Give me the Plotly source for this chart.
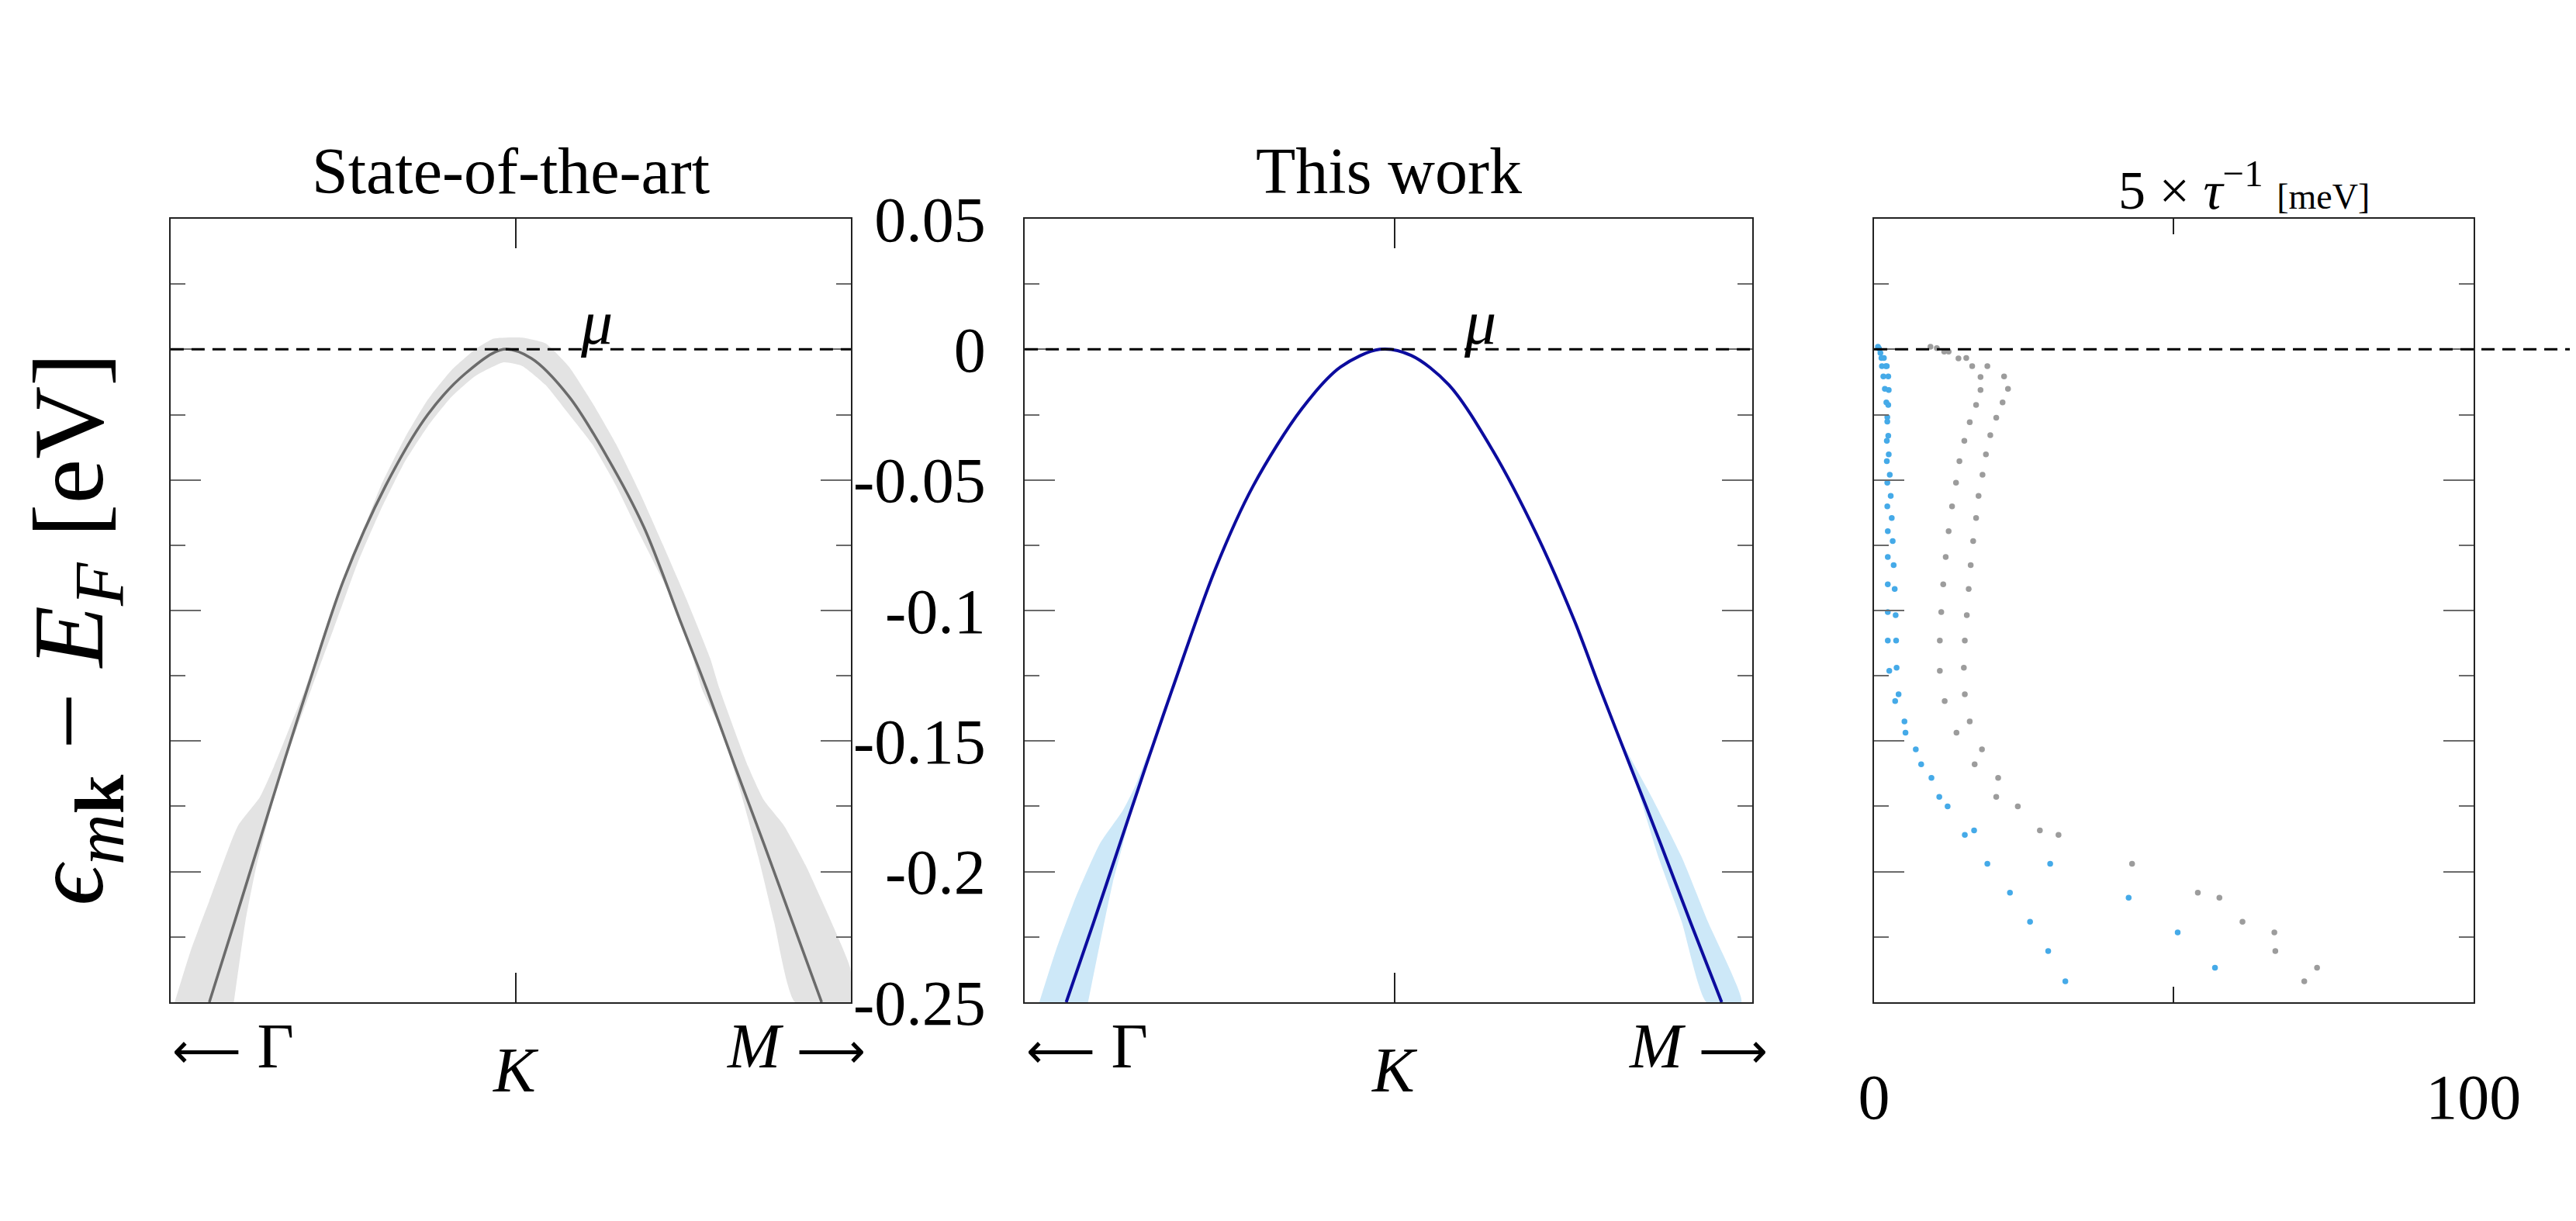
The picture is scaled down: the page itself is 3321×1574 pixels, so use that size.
import plotly.graph_objects as go

# band dispersion along Gamma <- K -> M, k in units of the plotted path (0..1)
K_POS = 0.508
E_RANGE = [-0.25, 0.05]
E_TICKS = [0.05, 0.0, -0.05, -0.1, -0.15, -0.2, -0.25]
E_LABELS = ["0.05", "0", "-0.05", "-0.1", "-0.15", "-0.2", "-0.25"]
E_MINOR = [0.025, -0.025, -0.075, -0.125, -0.175, -0.225]
MU = 0.0

# state-of-the-art band (gray)
sota_k = [0.057, 0.095, 0.133, 0.168, 0.201, 0.254, 0.316, 0.378, 0.434, 0.489,
          0.530, 0.586, 0.641, 0.696, 0.750, 0.788, 0.830, 0.873, 0.915, 0.957]
sota_e = [-0.25, -0.2185, -0.1865, -0.157, -0.13, -0.0886, -0.0523, -0.025, -0.0091, 0.0,
          -0.0034, -0.0182, -0.0409, -0.0682, -0.1045, -0.13, -0.16, -0.19, -0.22, -0.25]

# uncertainty band outline: outer edge left->right, then inner edge right->left
sota_band_k = [0.006, 0.030, 0.057, 0.099, 0.131, 0.152, 0.175, 0.198, 0.240, 0.275, 0.309,
               0.344, 0.378, 0.413, 0.448, 0.475, 0.517, 0.551, 0.586, 0.620, 0.655, 0.689,
               0.724, 0.758, 0.793, 0.807, 0.849, 0.872, 0.902, 0.933, 0.971, 0.999, 1.0,
               0.918, 0.887, 0.864, 0.838, 0.811, 0.781, 0.758, 0.724, 0.689, 0.655, 0.620,
               0.586, 0.551, 0.517, 0.489, 0.448, 0.413, 0.378, 0.344, 0.309, 0.275, 0.240,
               0.207, 0.186, 0.163, 0.144, 0.125, 0.110, 0.093]
sota_band_e = [-0.25, -0.23, -0.2112, -0.1825, -0.1716, -0.1597, -0.1449, -0.13, -0.0989, -0.075, -0.0523,
               -0.0341, -0.0193, -0.008, 0.0, 0.0041, 0.0045, 0.0023, -0.0068, -0.0205, -0.0364, -0.0545,
               -0.075, -0.0955, -0.1182, -0.13, -0.1597, -0.1726, -0.1825, -0.1973, -0.2191, -0.2369, -0.25,
               -0.25, -0.2191, -0.1944, -0.1696, -0.1468, -0.13, -0.1091, -0.0886, -0.0705, -0.0523, -0.0364,
               -0.025, -0.0136, -0.0064, -0.005, -0.0102, -0.0182, -0.0295, -0.0432, -0.0614, -0.0818, -0.1068,
               -0.13, -0.1449, -0.1617, -0.1795, -0.1993, -0.2191, -0.25]

# this work band (blue)
work_k = [0.057, 0.094, 0.130, 0.166, 0.203, 0.262, 0.314, 0.381, 0.434, 0.488,
          0.531, 0.583, 0.643, 0.703, 0.755, 0.791, 0.833, 0.875, 0.916, 0.958]
work_e = [-0.25, -0.22, -0.19, -0.16, -0.13, -0.0841, -0.0523, -0.0227, -0.0068, 0.0,
          -0.0023, -0.0136, -0.0386, -0.0705, -0.1035, -0.13, -0.16, -0.19, -0.22, -0.25]

# uncertainty only visible far from K: two separate patches
work_band_k = [0.020, 0.043, 0.071, 0.103, 0.135, 0.153, 0.171, 0.180,
               0.164, 0.149, 0.135, 0.121, 0.103, 0.087, None,
               0.814, 0.862, 0.903, 0.939, 0.985, 0.937, 0.903, 0.871, 0.846, 0.828]
work_band_e = [-0.25, -0.23, -0.2092, -0.1894, -0.1765, -0.1666, -0.1538, -0.1498,
               -0.1627, -0.1746, -0.1894, -0.2042, -0.228, -0.25, None,
               -0.147, -0.1716, -0.1944, -0.2191, -0.25, -0.25, -0.2191, -0.1944, -0.1716, -0.1557]

# scattering rates, 5 x 1/tau [meV], vs band energy [eV]
rate_blue_x = [0.65, 0.82, 1.06, 1.23, 1.64, 1.31, 1.96, 2.13, 1.55, 2.37, 1.80, 2.45, 2.05, 2.37,
               2.21, 2.21, 2.37, 2.13, 2.45, 2.13, 2.62, 2.21, 2.78, 2.21, 2.95, 2.29, 3.11, 2.29,
               3.27, 2.29, 3.44, 2.29, 3.60, 2.29, 3.68, 2.54, 3.76, 4.09, 3.52, 5.07, 5.24, 6.96,
               7.86, 9.57, 10.88, 12.27, 15.14, 16.69, 18.90, 29.38, 22.67, 42.47, 26.02, 50.65,
               29.05, 56.87, 31.91]
rate_blue_e = [0.001, 0.0003, -0.0014, -0.0033, -0.0033, -0.0064, -0.0064, -0.0064, -0.0104, -0.0104,
               -0.0151, -0.0156, -0.0203, -0.0213, -0.026, -0.0277, -0.0331, -0.035, -0.0402, -0.0428,
               -0.048, -0.0511, -0.0561, -0.0601, -0.0646, -0.0696, -0.0734, -0.0795, -0.0826, -0.09,
               -0.0918, -0.1006, -0.1018, -0.1115, -0.1115, -0.1231, -0.1219, -0.1321, -0.1347, -0.1425,
               -0.1468, -0.1532, -0.1589, -0.1641, -0.1714, -0.175, -0.1859, -0.1842, -0.197, -0.197,
               -0.2081, -0.21, -0.2192, -0.2233, -0.2304, -0.2368, -0.242]

rate_gray_x = [9.41, 10.47, 11.70, 12.44, 14.08, 15.38, 16.37, 18.90, 17.76, 21.69, 17.76, 22.34,
               17.02, 21.44, 15.96, 20.38, 15.06, 19.39, 14.24, 18.66, 13.67, 18.09, 13.01, 17.43,
               12.44, 17.02, 11.95, 16.53, 11.54, 16.12, 11.21, 15.79, 10.97, 15.47, 10.97, 15.14,
               11.78, 14.98, 13.75, 15.14, 16.78, 15.96, 20.38, 18.00, 23.98, 20.70, 27.66, 30.77,
               43.04, 54.01, 57.61, 61.46, 66.78, 66.94, 73.90, 71.77]
rate_gray_e = [0.001, 0.0005, -0.0009, -0.0009, -0.0035, -0.0033, -0.0064, -0.0064, -0.0106, -0.0104,
               -0.0156, -0.0151, -0.0213, -0.0203, -0.0279, -0.0262, -0.035, -0.0329, -0.0428, -0.0402,
               -0.0511, -0.048, -0.0601, -0.0561, -0.0696, -0.0646, -0.0795, -0.0734, -0.09, -0.0826,
               -0.1006, -0.0918, -0.1115, -0.1018, -0.1231, -0.1115, -0.1347, -0.1219, -0.1468, -0.1321,
               -0.1589, -0.1425, -0.1714, -0.1532, -0.175, -0.1641, -0.1842, -0.1859, -0.197, -0.2081,
               -0.21, -0.2192, -0.2233, -0.2304, -0.2368, -0.242]
RATE_TICKS = [0, 100]
RATE_LABELS = ["0", "100"]
RATE_MINOR = [50]

FONT = "Liberation Serif"
AX_LINE = "#222222"
TICK_COL = "#6a6a6a"

fig = go.Figure()

# panel 1
fig.add_trace(go.Scatter(x=sota_band_k, y=sota_band_e, fill="toself", fillcolor="#e3e3e3",
                         mode="lines", line=dict(width=0, color="rgba(0,0,0,0)", shape="spline", smoothing=0.5),
                         hoverinfo="skip", xaxis="x", yaxis="y"))
fig.add_trace(go.Scatter(x=sota_k, y=sota_e, mode="lines",
                         line=dict(color="#6b6b6b", width=3.5, shape="spline", smoothing=0.9),
                         xaxis="x", yaxis="y"))

# panel 2
fig.add_trace(go.Scatter(x=work_band_k, y=work_band_e, fill="toself", fillcolor="#cde8f8",
                         mode="lines", line=dict(width=0, color="rgba(0,0,0,0)", shape="spline", smoothing=0.5),
                         hoverinfo="skip", xaxis="x2", yaxis="y2"))
fig.add_trace(go.Scatter(x=work_k, y=work_e, mode="lines",
                         line=dict(color="#0c0c9e", width=4, shape="spline", smoothing=0.9),
                         xaxis="x2", yaxis="y2"))

# panel 3
fig.add_trace(go.Scatter(x=rate_gray_x, y=rate_gray_e, mode="markers",
                         marker=dict(color="#9c9c9c", size=7.5), xaxis="x3", yaxis="y3"))
fig.add_trace(go.Scatter(x=rate_blue_x, y=rate_blue_e, mode="markers",
                         marker=dict(color="#45aae8", size=7.5), xaxis="x3", yaxis="y3"))

y_common = dict(
    range=E_RANGE, tickmode="array", tickvals=E_TICKS, ticktext=E_LABELS,
    showline=True, linecolor=AX_LINE, linewidth=2, mirror="allticks",
    ticks="inside", ticklen=39, tickwidth=2, tickcolor=TICK_COL,
    minor=dict(tickmode="array", tickvals=E_MINOR, ticks="inside", ticklen=19,
               tickwidth=2, tickcolor=TICK_COL),
    showgrid=False, zeroline=False, showticklabels=False, automargin=False,
    domain=[0.1843, 0.8259],
)
x_band = dict(
    range=[0, 1], tickmode="array", tickvals=[K_POS], showticklabels=False,
    showline=True, linecolor=AX_LINE, linewidth=2, mirror="allticks",
    ticks="inside", ticklen=38, tickwidth=2, tickcolor=AX_LINE,
    showgrid=False, zeroline=False, automargin=False,
)

fig.update_layout(
    width=3321, height=1574,
    margin=dict(l=0, r=0, t=0, b=0),
    paper_bgcolor="white", plot_bgcolor="white",
    showlegend=False,
    font=dict(family=FONT, size=80, color="black"),
    xaxis=dict(x_band, domain=[0.0638, 0.3279], anchor="y"),
    xaxis2=dict(x_band, domain=[0.3954, 0.6778], anchor="y2"),
    xaxis3=dict(
        range=[0, 100], tickmode="array", tickvals=RATE_TICKS, ticktext=RATE_LABELS,
        minor=dict(tickmode="array", tickvals=RATE_MINOR, ticks="inside", ticklen=20,
                   tickwidth=2, tickcolor=AX_LINE),
        showline=True, linecolor=AX_LINE, linewidth=2, mirror="allticks",
        ticks="inside", ticklen=20, tickwidth=2, tickcolor=AX_LINE,
        tickfont=dict(size=82), ticklabelstandoff=50, automargin=False,
        showgrid=False, zeroline=False, domain=[0.7251, 0.9578], anchor="y3",
    ),
    yaxis=dict(y_common, anchor="x"),
    yaxis2=dict(y_common, anchor="x2", showticklabels=True, ticklabelstandoff=32,
                tickfont=dict(size=82)),
    yaxis3=dict(y_common, anchor="x3"),
)

dash = dict(color="black", width=3, dash="17px,10px")
fig.add_shape(type="line", xref="x domain", yref="y", x0=0, x1=1, y0=MU, y1=MU, line=dash)
fig.add_shape(type="line", xref="x2 domain", yref="y2", x0=0, x1=1, y0=MU, y1=MU, line=dash)
fig.add_shape(type="line", xref="x3 domain", yref="y3", x0=0, x1=1.25, y0=MU, y1=MU, line=dash)

ann = []
for xa, ya, title in [("x", "y", "State-of-the-art"), ("x2", "y2", "This work")]:
    ann.append(dict(text=title, xref=f"{xa} domain", yref=f"{ya} domain", x=0.5, y=1.061,
                    xanchor="center", yanchor="middle", font=dict(size=84)))
    ann.append(dict(text="<span style='font-size:62px'>⟵</span> Γ", xref=f"{xa} domain",
                    yref=f"{ya} domain", x=0.0, y=-0.056,
                    xanchor="left", yanchor="middle", font=dict(size=82)))
    ann.append(dict(text="<i>M</i> <span style='font-size:62px'>⟶</span>", xref=f"{xa} domain",
                    yref=f"{ya} domain", x=1.024, y=-0.056,
                    xanchor="right", yanchor="middle", font=dict(size=82)))
    ann.append(dict(text="<i>K</i>", xref=xa, yref=f"{ya} domain", x=K_POS, y=-0.087,
                    xanchor="center", yanchor="middle", font=dict(size=82)))
    ann.append(dict(text="<i>μ</i>", xref=xa, yref=ya, x=0.626, y=MU + 0.0105,
                    xanchor="center", yanchor="middle", font=dict(size=82)))

ann.append(dict(text="5 × <i>τ</i><sup>−1</sup> <span style='font-size:46px'>[meV]</span>",
                xref="x3 domain", yref="y3 domain", x=0.405, y=0.996,
                xanchor="left", yanchor="bottom", font=dict(size=70)))
ann.append(dict(text="<i>ϵ</i><sub><i>m</i><b>k</b></sub> − <i>E</i><sub><i>F</i></sub> [eV]",
                xref="paper", yref="paper", x=0.027, y=0.49, textangle=-90,
                xanchor="center", yanchor="middle", font=dict(size=130)))

fig.update_layout(annotations=[dict(a, showarrow=False) for a in ann])

fig.write_html("out.html")
